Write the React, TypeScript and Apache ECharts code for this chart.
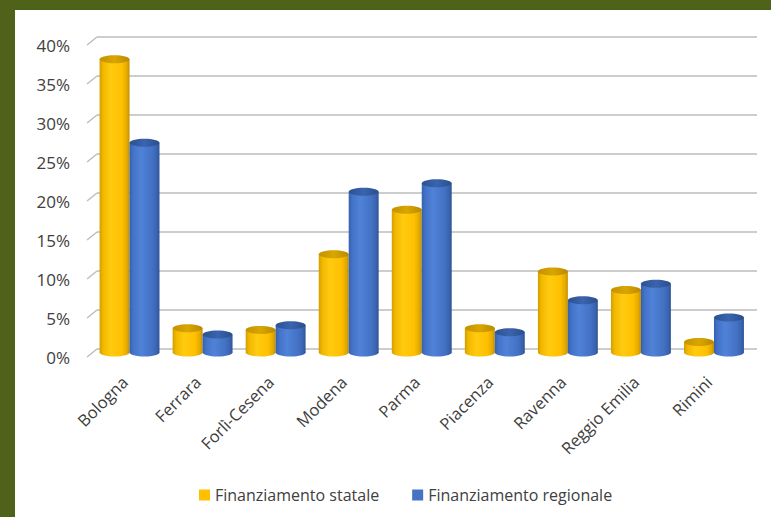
import React, { useEffect, useRef } from "react";
import * as echarts from "echarts";

const categories = [
  "Bologna",
  "Ferrara",
  "Forlì-Cesena",
  "Modena",
  "Parma",
  "Piacenza",
  "Ravenna",
  "Reggio Emilia",
  "Rimini",
];
const statale = [37.6, 3.1, 2.9, 12.6, 18.3, 3.1, 10.4, 8.0, 1.35];
const regionale = [26.9, 2.3, 3.5, 20.6, 21.7, 2.6, 6.7, 8.8, 4.5];
const yTicks = [0, 5, 10, 15, 20, 25, 30, 35, 40];
const seriesNames = ["Finanziamento statale", "Finanziamento regionale"];

const FONT = "'Open Sans', 'Noto Sans', sans-serif";
const TEXT = "#404040";
const GRIDC = "#BCBCBC";

const palettes = [
  {
    legend: "#FFC000",
    body: [
      [0, "#D29E00"],
      [0.12, "#F2B800"],
      [0.38, "#FFCB10"],
      [0.75, "#FFC000"],
      [0.92, "#E2A800"],
      [1, "#BE8E00"],
    ],
    top: [
      [0, "#C39200"],
      [0.5, "#D9A600"],
      [1, "#B98A00"],
    ],
  },
  {
    legend: "#4472C4",
    body: [
      [0, "#3560AC"],
      [0.12, "#4373C8"],
      [0.38, "#4F82D8"],
      [0.75, "#4472C4"],
      [0.92, "#3963B0"],
      [1, "#2D528F"],
    ],
    top: [
      [0, "#2D5191"],
      [0.5, "#3A64AE"],
      [1, "#2B4E8C"],
    ],
  },
];

function grad(stops: any[]) {
  return new echarts.graphic.LinearGradient(
    0,
    0,
    1,
    0,
    stops.map((s) => ({ offset: s[0], color: s[1] }))
  );
}

function cylinderSeries(idx: number, values: number[]) {
  const pal = palettes[idx];
  return {
    name: seriesNames[idx],
    type: "custom",
    xAxisIndex: 0,
    yAxisIndex: 0,
    itemStyle: { color: pal.legend },
    data: values.map((v, i) => [i, v]),
    renderItem: (params: any, api: any) => {
      const cat = api.value(0);
      const v = api.value(1);
      const top = api.coord([cat, v]);
      const base = api.coord([cat, 0]);
      const bw = api.size([1, 0])[0] * 0.41;
      const cx = top[0] + (idx === 0 ? -bw / 2 : bw / 2);
      const ry = 4;
      return {
        type: "group",
        children: [
          {
            type: "ellipse",
            shape: { cx, cy: base[1], rx: bw / 2, ry },
            style: { fill: grad(pal.body) },
          },
          {
            type: "rect",
            shape: { x: cx - bw / 2, y: top[1], width: bw, height: base[1] - top[1] },
            style: { fill: grad(pal.body) },
          },
          {
            type: "ellipse",
            shape: { cx, cy: top[1], rx: bw / 2, ry },
            style: { fill: grad(pal.top) },
          },
        ],
      };
    },
  };
}

export default function App() {
  const ref = useRef<HTMLDivElement>(null);
  useEffect(() => {
    document.body.style.margin = "0";
    const chart = echarts.init(ref.current!, null, { renderer: "svg" });
    chart.setOption({
      animation: false,
      backgroundColor: "#4F6219",
      graphic: [
        {
          type: "rect",
          z: -100,
          shape: { x: 15, y: 10, width: 756, height: 507 },
          style: { fill: "#FFFFFF" },
        },
      ],
      grid: [
        { left: 93, right: 20.5, top: 40.5, height: 312 },
        { left: 97, right: 14, top: 37, height: 312 },
        { left: 88, right: 25.5, top: 45, height: 312 },
      ],
      xAxis: [
        { type: "category", gridIndex: 0, data: categories, show: false },
        { type: "value", gridIndex: 1, min: 0, max: 1, show: false },
        {
          type: "category",
          gridIndex: 2,
          data: categories,
          axisLine: { show: false },
          axisTick: { show: false },
          splitLine: { show: false },
          axisLabel: {
            rotate: 45,
            margin: 22,
            interval: 0,
            fontSize: 16.5,
            fontFamily: FONT,
            color: TEXT,
          },
        },
      ],
      yAxis: [
        { type: "value", gridIndex: 0, min: 0, max: 40, interval: 5, show: false },
        {
          type: "value",
          gridIndex: 1,
          min: 0,
          max: 40,
          interval: 5,
          axisLine: { show: false },
          axisTick: { show: false },
          axisLabel: { show: false },
          splitLine: { show: true, lineStyle: { color: GRIDC, width: 1.5 } },
        },
        {
          type: "value",
          gridIndex: 2,
          min: 0,
          max: 40,
          interval: 5,
          axisLine: { show: false },
          axisTick: { show: false },
          splitLine: { show: false },
          axisLabel: {
            margin: 18,
            formatter: "{value}%",
            fontSize: 17,
            fontFamily: FONT,
            color: TEXT,
          },
        },
      ],
      legend: {
        left: 194,
        top: 482,
        itemWidth: 11,
        itemHeight: 11,
        itemGap: 33,
        icon: "rect",
        data: seriesNames,
        textStyle: { fontSize: 16, fontFamily: FONT, color: TEXT },
      },
      series: [
        {
          type: "custom",
          xAxisIndex: 1,
          yAxisIndex: 1,
          silent: true,
          data: yTicks.map((v) => [0, v]),
          renderItem: (params: any, api: any) => {
            const p = api.coord([0, api.value(1)]);
            return {
              type: "line",
              shape: { x1: p[0], y1: p[1], x2: p[0] - 10, y2: p[1] + 8 },
              style: { stroke: GRIDC, lineWidth: 1.5 },
            };
          },
        },
        cylinderSeries(0, statale),
        cylinderSeries(1, regionale),
      ],
    });
    return () => chart.dispose();
  }, []);
  return (
    <div
      ref={ref}
      style={{ position: "fixed", left: 0, top: 0, width: 771, height: 517 }}
    />
  );
}
